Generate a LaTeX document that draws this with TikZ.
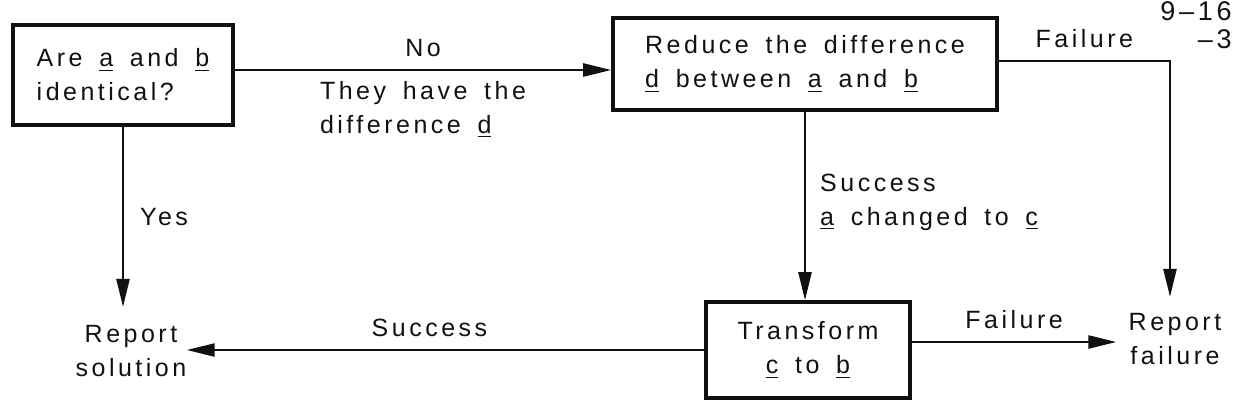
\documentclass[tikz,border=0pt]{standalone}
\usepackage{fontspec}
\setmainfont{Liberation Sans}[LetterSpace=14,WordSpace=1.6]
\usetikzlibrary{arrows.meta,positioning,calc}
\definecolor{inkCol}{HTML}{111111}
\newcommand{\lbl}{\fontsize{12.5}{17}\selectfont}
\newcommand{\var}[1]{\underline{#1}}
\tikzstyle{block}=[draw=inkCol, line width=1.8pt, inner sep=0pt, font=\lbl, text=inkCol]
\tikzstyle{plain}=[inner sep=0pt, font=\lbl, text=inkCol, align=center]
\tikzstyle{connection}=[line width=1.2pt, draw=inkCol, -{Triangle[length=14pt,width=6.5pt]}]
\tikzstyle{edgelabel}=[inner sep=0pt, font=\lbl, text=inkCol]

\begin{document}
\begin{tikzpicture}[x=0.5pt,y=-0.5pt]
    \useasboundingbox (0,0) rectangle (1233,414);

    % === BLOCKS ===
    \node[block, align=left, minimum width=110pt, minimum height=50pt] (same) at (123,75)
        {Are \var{a} and \var{b}\\identical?};
    \node[block, align=left, minimum width=192pt, minimum height=46pt] (reduce) at (805,64)
        {Reduce the difference\\\var{d} between \var{a} and \var{b}};
    \node[block, align=center, minimum width=102pt, minimum height=48pt] (transform) at (808,350)
        {Transform\\\var{c} to \var{b}};

    % === RESULTS ===
    \node[plain] (solution) at (131,351) {Report\\solution};
    \node[plain] (failure) at (1175,339) {Report\\failure};

    % page mark
    \node[inner sep=0pt, align=right, font=\fontsize{13.5}{14}\selectfont, text=inkCol] (mark) at (1196,25) {9--16\\--3};

    % ==== CONNECTIONS ====
    % Same -> Reduce
    \coordinate (no) at ([yshift=2.5pt]same.east);
    \draw[connection] (no) -- (no -| reduce.west)
        node[edgelabel, midway, above=6pt] {No}
        node[edgelabel, midway, below=5pt, align=left] {They have the\\difference \var{d}};

    % Same -> Report solution
    \draw[connection] (same.south) -- ([yshift=9pt]same.south |- solution.north)
        node[edgelabel, midway, right=8pt] {Yes};

    % Reduce -> Transform
    \draw[connection] (reduce.south) -- (reduce.south |- transform.north)
        node[edgelabel, midway, right=7pt, align=left, yshift=2pt] {Success\\\var{a} changed to \var{c}};

    % Reduce -> Report failure
    \coordinate (fail) at ([yshift=1.5pt]reduce.east);
    \draw[connection] (fail) -| ([xshift=-2.5pt,yshift=8pt]failure.north)
        node[edgelabel, pos=0.25, above=6pt] {Failure};

    % Transform -> Report solution
    \draw[connection] (transform.west) -- (transform.west -| solution.east)
        node[edgelabel, midway, above=6pt, xshift=-8pt] {Success};

    % Transform -> Report failure
    \coordinate (tfail) at ([yshift=4pt]transform.east);
    \draw[connection] (tfail) -- ([xshift=-6pt]tfail -| failure.west)
        node[edgelabel, midway, above=6pt] {Failure};

\end{tikzpicture}
\end{document}
